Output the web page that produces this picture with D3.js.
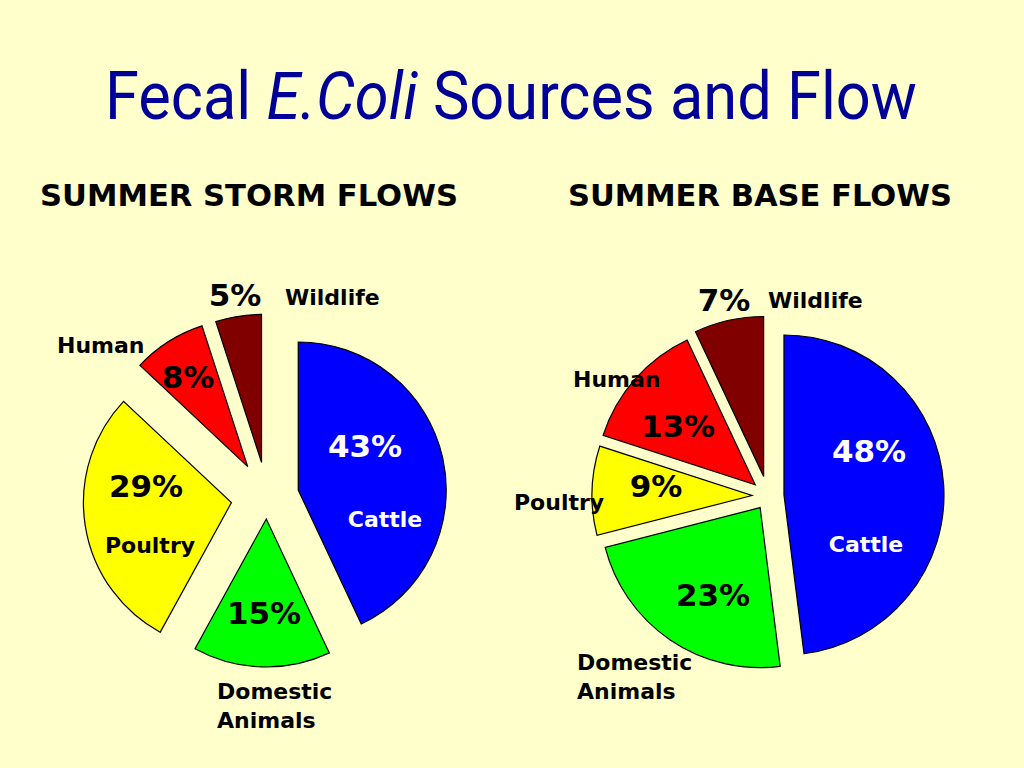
<!DOCTYPE html>
<html>
<head>
<meta charset="utf-8">
<script src="https://cdn.jsdelivr.net/npm/d3@7"></script>
<style>
  body { margin: 0; background: #ffffcc; }
  svg { display: block; }
</style>
</head>
<body>
<div id="chart"></div>
<script>
// data
const sources = ["Cattle", "Domestic Animals", "Poultry", "Human", "Wildlife"];
const stormFlows = [43, 15, 29, 8, 5];
const baseFlows = [48, 23, 9, 13, 7];
const colors = ["#0000ff", "#00ff00", "#ffff00", "#ff0000", "#800000"];

(function(){

  const svg = d3.select("#chart").append("svg")
    .attr("width", 1024).attr("height", 768);

  svg.append("rect").attr("width", 1024).attr("height", 768).attr("fill", "#ffffcc");

  // title
  let title = svg.append("text")
    .attr("x", 105).attr("y", 119)
    .attr("font-family", "Roboto, 'Open Sans', sans-serif")
    .attr("font-size", 66)
    .attr("fill", "#000099")
    .attr("textLength", 812)
    .attr("lengthAdjust", "spacingAndGlyphs");
  title.append("tspan").text("Fecal ");
  title.append("tspan").attr("font-style", "italic").text("E.Coli");
  title.append("tspan").text(" Sources and Flow");

  // pie layouts (center, radius, how far each slice is pulled out)
  const pies = [
    { name: "SUMMER STORM FLOWS", values: stormFlows, cx: 267, cy: 497, r: 148,
      explode: [32, 22, 36, 36, 35], head: [40, 458],
      pct: [[365, 457], [264, 624], [146, 497], [188, 388], [235, 306]],
      lab: [[385, 527, ["Cattle"]], [217, 699, ["Domestic", "Animals"], "start"], [150, 553, ["Poultry"]], [57, 353, ["Human"], "start"], [285, 305, ["Wildlife"], "start"]] },
    { name: "SUMMER BASE FLOWS", values: baseFlows, cx: 768, cy: 496, r: 160,
      explode: [16, 14, 16, 17, 20], head: [568, 952],
      pct: [[869, 462], [713, 606], [656, 497], [678, 437], [724, 311]],
      lab: [[866, 552, ["Cattle"]], [577, 670, ["Domestic", "Animals"], "start"], [514, 510, ["Poultry"], "start"], [573, 387, ["Human"], "start"], [768, 308, ["Wildlife"], "start"]] }
  ];

  const pie = d3.pie().sort(null).value(d => d).startAngle(0).endAngle(2 * Math.PI);

  pies.forEach(function(p){

    svg.append("text")
      .attr("x", p.head[0]).attr("y", 206)
      .attr("font-family", "'DejaVu Sans', Verdana, sans-serif")
      .attr("font-weight", "bold")
      .attr("font-size", 31)
      .attr("textLength", p.head[1] - p.head[0])
      .attr("lengthAdjust", "spacingAndGlyphs")
      .attr("fill", "#000")
      .text(p.name);

    let arc = d3.arc().innerRadius(0).outerRadius(p.r);
    let g = svg.append("g").attr("transform", `translate(${p.cx}, ${p.cy})`);

    pie(p.values).forEach(function(s, i){
      let mid = (s.startAngle + s.endAngle) / 2;
      let dx = Math.sin(mid) * p.explode[i];
      let dy = -Math.cos(mid) * p.explode[i];
      g.append("path")
        .attr("d", arc(s))
        .attr("transform", `translate(${dx}, ${dy})`)
        .attr("fill", colors[i])
        .attr("stroke", "#000")
        .attr("stroke-width", 1.2);
    });

    // percentages
    p.values.forEach(function(v, i){
      svg.append("text")
        .attr("x", p.pct[i][0]).attr("y", p.pct[i][1])
        .attr("text-anchor", "middle")
        .attr("font-family", "'DejaVu Sans', Verdana, sans-serif")
        .attr("font-weight", "bold")
        .attr("font-size", 31)
        .attr("fill", i === 0 ? "#fff" : "#000")
        .text(v + "%");
    });

    // category labels
    p.lab.forEach(function(l, i){
      let t = svg.append("text")
        .attr("x", l[0]).attr("y", l[1])
        .attr("text-anchor", l[3] || "middle")
        .attr("font-family", "'DejaVu Sans', Verdana, sans-serif")
        .attr("font-weight", "bold")
        .attr("font-size", 22)
        .attr("fill", i === 0 ? "#fff" : "#000");
      l[2].forEach(function(line, k){
        t.append("tspan").attr("x", l[0]).attr("dy", k === 0 ? 0 : 29).text(line);
      });
    });
  });

})();
</script>
</body>
</html>
